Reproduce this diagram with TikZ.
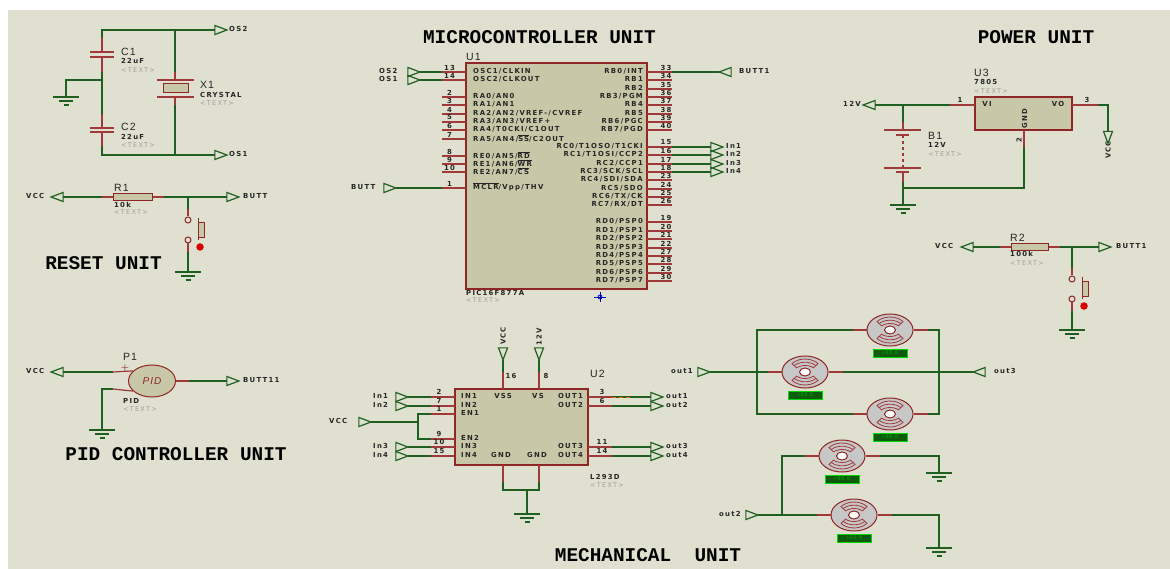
\documentclass[tikz,border=0pt]{standalone}
\usepackage{fontspec}
\usepackage{tikz}
\usetikzlibrary{shapes,arrows}
\newfontfamily\pinfont[LetterSpace=18]{DejaVu Sans}
\newfontfamily\namefont[LetterSpace=10]{Liberation Sans}
\newfontfamily\titlefont{Liberation Mono}
\definecolor{bgcol}{HTML}{DFE0D0}
\definecolor{chipcol}{HTML}{C8C8A8}
\definecolor{wirecol}{HTML}{1F5F1F}
\definecolor{pincol}{HTML}{A03A3A}
\definecolor{edgecol}{HTML}{8F2525}
\definecolor{gtextcol}{HTML}{A0A0A0}
\definecolor{ledcol}{HTML}{0F5A0F}
\newcommand{\ovl}[1]{$\overline{\mbox{#1}}$}
\tikzstyle{wire} = [draw, wirecol, line width=1.2pt]
\tikzstyle{pin} = [draw, pincol, line width=1.2pt]
\tikzstyle{chip} = [rectangle, draw=edgecol, line width=1.3pt, fill=chipcol, inner sep=0]
\tikzstyle{part} = [rectangle, draw=edgecol, line width=1pt, fill=chipcol, inner sep=0]
\tikzstyle{term} = [isosceles triangle, isosceles triangle stretches, draw=wirecol, line width=1.2pt, minimum width=9, minimum height=12, inner sep=0, outer sep=0]
\tikzstyle{contact} = [circle, draw=edgecol, line width=1pt, fill=bgcol, minimum size=6, inner sep=0]
\tikzstyle{pinlab} = [font=\pinfont\bfseries\fontsize{6.9}{8}\selectfont, text=black!85, inner sep=0]
\tikzstyle{numlab} = [font=\pinfont\bfseries\fontsize{6.9}{8}\selectfont, text=black!85, inner sep=0]
\tikzstyle{deslab} = [font=\namefont\fontsize{10.5}{12}\selectfont, text=black!85, anchor=west, inner sep=0]
\tikzstyle{graylab} = [font=\pinfont\fontsize{6.6}{8}\selectfont, text=gtextcol, anchor=west, inner sep=0]
\tikzstyle{title} = [font=\titlefont\bfseries\fontsize{19.4}{22}\selectfont, text=black, inner sep=0]

\begin{document}
\begin{tikzpicture}[x=1pt, y=-1pt]
\useasboundingbox (0,0) rectangle (1170,569);
\fill[white] (0,0) rectangle (1170,569);
\fill[bgcol] (8,10) rectangle (1170,569);

%% titles
\node[title] (t-micro) at (539.5,37) {MICROCONTROLLER UNIT};
\node[title] (t-power) at (1036,37) {POWER UNIT};
\node[title] (t-reset) at (103.5,263) {RESET UNIT};
\node[title] (t-pid) at (176,454) {PID CONTROLLER UNIT};
\node[title] (t-mech) at (648,555) {MECHANICAL~~UNIT};

%% terminals
\foreach \name/\x/\y/\rot/\lx/\t in {os2a/218/30/0/229/OS2, os1a/218/155/0/229/OS1, vcca/60/197/180/26/VCC, butta/230/197/0/243/BUTT,
  vccb/60/372/180/26/VCC, buttb/230/381/0/243/BUTT11, os2b/411/72/0/379/OS2, os1b/411/80/0/379/OS1, buttc/387/188/0/351/BUTT, buttd/728/72/180/739/BUTT1,
  in1a/714/147/0/726/In1, in2a/714/155/0/726/In2, in3a/714/164/0/726/In3, in4a/714/172/0/726/In4,
  in1b/399/397/0/373/In1, in2b/399/406/0/373/In2, in3b/399/447/0/373/In3, in4b/399/456/0/373/In4, vccc/362/422/0/329/VCC,
  out1a/654/397/0/666/out1, out2a/654/406/0/666/out2, out3a/654/447/0/666/out3, out4a/654/456/0/666/out4,
  vccd/970/247/180/935/VCC, butte/1102/247/0/1116/BUTT1, vbat/872/105/180/843/12V,
  out1b/701/372/0/671/out1, out3b/982/372/180/994/out3, out2b/749/515/0/719/out2} {
  \node[term, rotate=\rot] (\name) at (\x,\y) {};
  \node[pinlab, anchor=west] (\name-lab) at (\lx,\y-1) {\t};
}
\foreach \name/\x/\y/\ly/\t in {vcce/1108/134.5/150/VCC, vccf/503/351/336/VCC, vbatb/539/351/337/12V} {
  \node[term, rotate=-90] (\name) at (\x,\y) {};
  \node[pinlab, rotate=90] (\name-lab) at (\x,\ly) {\t};
}

%% part labels
\foreach \name/\x/\ya/\yb/\yc/\des/\val in {c1/121/52/61/70/C1/22uF, c2/121/127/137/145/C2/22uF, x1/200/85/95/103/X1/CRYSTAL, r1/114/188/205/212/R1/10k,
  p1/123/357/401/409/P1/PID, u1/466/57/293/300/U1/PIC16F877A, u2/590/374/477/485/U2/L293D, u3/974/73/82/91/U3/7805, b1/928/136/145/154/B1/12V, r2/1010/238/254/263/R2/100k} {
  \node[deslab] (\name-des) at (\x,\ya) {\des};
  \node[pinlab, anchor=west] (\name-val) at (\x,\yb) {\val};
  \node[graylab] (\name-txt) at (\x,\yc) {<TEXT>};
}

%% oscillator
\coordinate (c1t) at (102,52);
\coordinate (c1b) at (102,57);
\coordinate (c2t) at (102,128);
\coordinate (c2b) at (102,132);
\foreach \c in {c1t,c1b,c2t,c2b} {
  \path[pin] ([xshift=-12]\c) -- ([xshift=12]\c);
}
\path[pin] (c1t) -- ++(0,-14) coordinate (c1u);
\path[pin] (c1b) -- ++(0,15) coordinate (c1d);
\path[pin] (c2t) -- ++(0,-14) coordinate (c2u);
\path[pin] (c2b) -- ++(0,14) coordinate (c2d);
\path[wire] (c1u) |- (os2a.lower side);
\path[wire] (c1d) -- (c2u);
\path[wire] (c2d) |- (os1a.lower side);
\coordinate (gnda) at (66,97);
\coordinate (ja) at (103,80);
\path[wire] (ja) -| (gnda);

\node[part, minimum width=25, minimum height=9] (x1) at (175.5,88.5) {};
\coordinate (x1t) at (175,80);
\coordinate (x1b) at (175,97);
\path[pin] ([xshift=-18]x1t) -- ([xshift=19]x1t);
\path[pin] ([xshift=-18]x1b) -- ([xshift=19]x1b);
\path[pin] (x1t) -- ++(0,-8) coordinate (x1u);
\path[pin] (x1b) -- ++(0,8) coordinate (x1d);
\path[wire] (x1u) -- (x1u |- os2a.lower side);
\path[wire] (x1d) -- (x1d |- os1a.lower side);

%% resistors
\foreach \r/\x/\y/\w in {r1/132.5/197/39, r2/1029.5/247/37} {
  \node[part, minimum width=\w, minimum height=7] (\r) at (\x,\y) {};
  \path[pin] (\r.west) -- ++(-11,0) coordinate (\r l);
  \path[pin] (\r.east) -- ++(11,0) coordinate (\r r);
}
\path[wire] (vcca.lower side) -- (r1l);
\path[wire] (r1r) -- (butta.lower side);
\path[wire] (vccd.lower side) -- (r2l);
\path[wire] (r2r) -- (butte.lower side);

%% push buttons
\foreach \s/\x/\y in {swa/188/220, swb/1072/279} {
  \node[contact] (\s a) at (\x,\y) {};
  \node[contact] (\s b) at (\x,\y+20) {};
  \path[pin] (\s a.north) -- ++(0,-7) coordinate (\s u);
  \path[pin] (\s b.south) -- ++(0,9) coordinate (\s d);
  \path[draw, edgecol, line width=1pt] (\x+10,\y-2) -- (\x+10,\y+20);
  \node[part, minimum width=6, minimum height=15] (\s k) at (\x+13,\y+10.5) {};
  \node[circle, fill=red!85!black, minimum size=7.5, inner sep=0] (\s p) at (\x+12,\y+27) {};
}
\coordinate (gndb) at (188,272);
\coordinate (gndd) at (1072,330);
\path[wire] (swau) -- (swau |- butta.lower side);
\path[wire] (swad) -- (gndb);
\path[wire] (swbu) -- (swbu |- butte.lower side);
\path[wire] (swbd) -- (gndd);

%% pid controller
\node[ellipse, draw=edgecol, line width=1pt, fill=chipcol, minimum width=47, minimum height=32, inner sep=0, text=edgecol, font=\namefont\itshape\fontsize{10}{12}\selectfont] (p1) at (152,381) {PID};
\coordinate (p1a) at (113,372);
\coordinate (p1c) at (113,389);
\path[pin] (p1a) -- (p1.152);
\path[pin] (p1c) -- (p1.208);
\path[pin] (p1.east) -- ++(13,0) coordinate (p1r);
\node[text=edgecol, inner sep=0, font=\bfseries\fontsize{9}{9}\selectfont] (p1plus) at (125,368) {+};
\node[text=edgecol, inner sep=0, font=\bfseries\fontsize{9}{9}\selectfont] (p1minus) at (125,392) {--};
\coordinate (gndc) at (102,430);
\path[wire] (vccb.lower side) -- (p1a);
\path[wire] (p1c) -| (gndc);
\path[wire] (p1r) -- (buttb.lower side);

%% microcontroller
\node[chip, minimum width=181, minimum height=226] (u1) at (556.5,176) {};
\foreach \y/\n/\t in {72/13/{OSC1/CLKIN}, 80/14/{OSC2/CLKOUT}, 97/2/{RA0/AN0}, 105/3/{RA1/AN1}, 114/4/{RA2/AN2/VREF-/CVREF}, 122/5/{RA3/AN3/VREF+},
  130/6/{RA4/T0CKI/C1OUT}, 139/7/{RA5/AN4/\ovl{SS}/C2OUT}, 156/8/{RE0/AN5/\ovl{RD}}, 164/9/{RE1/AN6/\ovl{WR}}, 172/10/{RE2/AN7/\ovl{CS}}, 188/1/{\ovl{MCLR}/Vpp/THV}} {
  \coordinate (u1p\n) at (442,\y);
  \path[pin] (u1p\n) -- (466,\y);
  \node[numlab] (u1n\n) at (449.5,\y-4.5) {\n};
  \node[pinlab, anchor=west] (u1l\n) at (473,\y-1) {\t};
}
\foreach \y/\n/\t in {72/33/{RB0/INT}, 80/34/RB1, 89/35/RB2, 97/36/{RB3/PGM}, 105/37/RB4, 114/38/RB5, 122/39/{RB6/PGC}, 130/40/{RB7/PGD},
  147/15/{RC0/T1OSO/T1CKI}, 155/16/{RC1/T1OSI/CCP2}, 164/17/{RC2/CCP1}, 172/18/{RC3/SCK/SCL}, 180/23/{RC4/SDI/SDA}, 189/24/{RC5/SDO}, 197/25/{RC6/TX/CK}, 205/26/{RC7/RX/DT},
  222/19/{RD0/PSP0}, 231/20/{RD1/PSP1}, 239/21/{RD2/PSP2}, 248/22/{RD3/PSP3}, 256/27/{RD4/PSP4}, 264/28/{RD5/PSP5}, 273/29/{RD6/PSP6}, 281/30/{RD7/PSP7}} {
  \coordinate (u1p\n) at (672,\y);
  \path[pin] (647,\y) -- (u1p\n);
  \node[numlab] (u1n\n) at (666,\y-4.5) {\n};
  \node[pinlab, anchor=east] (u1l\n) at (643,\y-1) {\t};
}
\path[wire] (os2b.apex) -- (u1p13);
\path[wire] (os1b.apex) -- (u1p14);
\path[wire] (buttc.apex) -- (u1p1);
\path[wire] (u1p33) -- (buttd.apex);
\path[wire] (u1p15) -- (in1a.lower side);
\path[wire] (u1p16) -- (in2a.lower side);
\path[wire] (u1p17) -- (in3a.lower side);
\path[wire] (u1p18) -- (in4a.lower side);
\coordinate (mark) at (600,297);
\path[draw, blue!75!black, thick] ([xshift=-6]mark) -- ([xshift=6]mark);
\path[draw, blue!75!black, thick] ([yshift=-5]mark) -- ([yshift=5]mark);
\path[draw, blue!75!black, thick] (mark) circle (2);

%% motor driver
\node[chip, minimum width=133, minimum height=76] (u2) at (521.5,427) {};
\foreach \y/\n/\t in {397/2/IN1, 406/7/IN2, 414/1/EN1, 439/9/EN2, 447/10/IN3, 456/15/IN4} {
  \coordinate (u2p\n) at (431,\y);
  \path[pin] (u2p\n) -- (455,\y);
  \node[numlab] (u2n\n) at (439,\y-5) {\n};
  \node[pinlab, anchor=west] (u2l\n) at (461,\y-1) {\t};
}
\foreach \y/\n/\t in {397/3/OUT1, 406/6/OUT2, 447/11/OUT3, 456/14/OUT4} {
  \coordinate (u2p\n) at (612,\y);
  \path[pin] (588,\y) -- (u2p\n);
  \node[numlab] (u2n\n) at (602,\y-5) {\n};
  \node[pinlab, anchor=east] (u2l\n) at (583,\y-1) {\t};
}
\path[wire] (in1b.apex) -- (u2p2);
\path[wire] (in2b.apex) -- (u2p7);
\path[wire] (in3b.apex) -- (u2p10);
\path[wire] (in4b.apex) -- (u2p15);
\coordinate (ena) at (418,414);
\coordinate (enb) at (418,439);
\coordinate (enj) at (418,422);
\path[wire] (vccc.apex) -- (enj);
\path[wire] (u2p1) -- (ena) -- (enb) -- (u2p9);
\path[wire] (u2p3) -- (out1a.lower side);
\path[wire] (u2p6) -- (out2a.lower side);
\path[wire] (u2p11) -- (out3a.lower side);
\path[wire] (u2p14) -- (out4a.lower side);
\path[draw, orange!80!red, line width=1pt, dash pattern=on 4pt off 3pt] (u2p3) -- ++(21,0);

\coordinate (u2ta) at (503,389);
\coordinate (u2tb) at (539,389);
\coordinate (u2ba) at (503,465);
\coordinate (u2bb) at (539,465);
\path[pin] (u2ta) -- ++(0,-17) coordinate (u2tau);
\path[pin] (u2tb) -- ++(0,-17) coordinate (u2tbu);
\path[pin] (u2ba) -- ++(0,17) coordinate (u2bad);
\path[pin] (u2bb) -- ++(0,17) coordinate (u2bbd);
\path[wire] (u2tau) -- (vccf.apex);
\path[wire] (u2tbu) -- (vbatb.apex);
\coordinate (u2ga) at (503,490);
\coordinate (u2gb) at (539,490);
\coordinate (u2gm) at (527,490);
\coordinate (gnde) at (527,514);
\path[wire] (u2bad) -- (u2ga) -- (u2gb) -- (u2bbd);
\path[wire] (u2gm) -- (gnde);
\node[numlab] (u2n16) at (511,376) {16};
\node[numlab] (u2n8) at (546,376) {8};
\node[pinlab] (u2vss) at (503,396) {VSS};
\node[pinlab] (u2vs) at (538,396) {VS};
\node[pinlab] (u2gnda) at (501,455) {GND};
\node[pinlab] (u2gndb) at (537,455) {GND};

%% power unit
\node[chip, minimum width=97, minimum height=33] (u3) at (1023.5,113.5) {};
\coordinate (u3pa) at (950,105);
\coordinate (u3pb) at (1098,105);
\coordinate (u3pc) at (1024,147);
\path[pin] (u3pa) -- (975,105);
\path[pin] (1072,105) -- (u3pb);
\path[pin] (u3pc) -- (1024,130);
\node[numlab] (u3n1) at (960,100) {1};
\node[numlab] (u3n3) at (1087,100) {3};
\node[numlab, rotate=90] (u3n2) at (1019,140) {2};
\node[pinlab] (u3vi) at (987,104) {VI};
\node[pinlab] (u3vo) at (1058,104) {VO};
\node[pinlab, rotate=90] (u3gnd) at (1024.5,119) {GND};
\path[wire] (vbat.lower side) -- (u3pa);
\path[wire] (u3pb) -| (vcce.lower side);

\coordinate (b1a) at (903,130);
\coordinate (b1b) at (903,135);
\coordinate (b1c) at (903,168);
\coordinate (b1d) at (903,172);
\coordinate (b1j) at (903,188);
\coordinate (gndf) at (903,205);
\path[pin] ([xshift=-19]b1a) -- ([xshift=18]b1a);
\path[pin] ([xshift=-7]b1b) -- ([xshift=6]b1b);
\path[pin] ([xshift=-19]b1c) -- ([xshift=18]b1c);
\path[pin] ([xshift=-7]b1d) -- ([xshift=6]b1d);
\path[pin, dashed] (b1b) -- (b1c);
\path[pin] (b1a) -- ++(0,-8) coordinate (b1u);
\path[pin] (b1d) -- ++(0,10) coordinate (b1l);
\path[wire] (b1u) -- (b1u |- vbat.lower side);
\path[wire] (b1l) -- (gndf);
\path[wire] (b1j) -| (u3pc);

%% motors
\foreach \name/\x/\y in {ma/890/330, mb/805/372, mc/890/414, md/842/456, me/854/515} {
  \node[ellipse, draw=edgecol, line width=1pt, fill=black!22, minimum width=46, minimum height=32, inner sep=0] (\name) at (\x,\y) {};
  \begin{scope}[shift={(\x,\y)}]
    \foreach \s/\e in {220/320, 40/140} {
      \path[draw, pincol, line width=.8pt] (\s:17 and 13) arc[start angle=\s, end angle=\e, x radius=17, y radius=13] -- (\e:11 and 6.5) arc[start angle=\e, end angle=\s, x radius=11, y radius=6.5] -- cycle;
      \path[draw, pincol, line width=.8pt] (\s:14.5 and 9.8) arc[start angle=\s, end angle=\e, x radius=14.5, y radius=9.8];
    }
  \end{scope}
  \node[ellipse, draw=edgecol, line width=1pt, fill=white, minimum width=11, minimum height=8, inner sep=0] (\name h) at (\x,\y) {};
  \node[rectangle, draw=green!85!black, fill=ledcol, line width=1pt, minimum width=34, minimum height=8, inner sep=0, text=green!65!black, font=\namefont\fontsize{5.5}{6}\selectfont] (\name v) at (\x,\y+23) {+88.8};
  \path[pin] (\name.west) -- ++(-14,0) coordinate (\name l);
  \path[pin] (\name.east) -- ++(14,0) coordinate (\name r);
}
\coordinate (lpa) at (757,330);
\coordinate (lpb) at (757,414);
\coordinate (rpa) at (939,330);
\coordinate (rpb) at (939,414);
\path[wire] (mal) -- (lpa) -- (lpb) -- (mcl);
\path[wire] (mar) -- (rpa) -- (rpb) -- (mcr);
\path[wire] (out1b.apex) -- (mbl);
\path[wire] (mbr) -- (out3b.apex);
\coordinate (gndg) at (939,473);
\coordinate (gndh) at (939,548);
\coordinate (ljn) at (782,515);
\path[wire] (mer) -| (gndh);
\path[wire] (mdr) -| (gndg);
\path[wire] (out2b.apex) -- (mel);
\path[wire] (mdl) -| (ljn);

%% grounds
\foreach \g in {gnda,gndb,gndc,gndd,gnde,gndf,gndg,gndh} {
  \path[wire] ([xshift=-13]\g) -- ([xshift=13]\g);
  \path[wire] ([xshift=-7,yshift=-4]\g) -- ([xshift=7,yshift=-4]\g);
  \path[wire] ([xshift=-2.5,yshift=-8]\g) -- ([xshift=2.5,yshift=-8]\g);
}
\end{tikzpicture}
\end{document}
